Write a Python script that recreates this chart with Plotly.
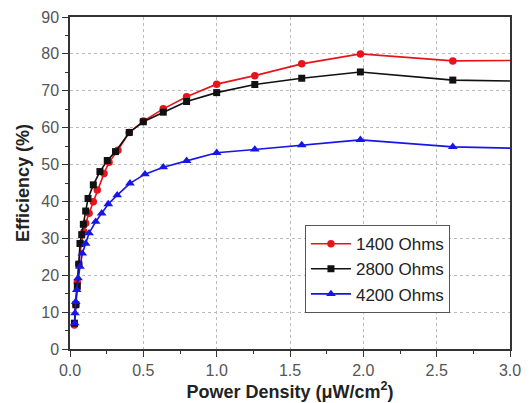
import plotly.graph_objects as go

# 1400 Ohms
x_1400 = [0.03, 0.04, 0.05, 0.06, 0.077, 0.095, 0.107, 0.13, 0.159, 0.186, 0.232,
          0.266, 0.327, 0.404, 0.5, 0.636, 0.795, 1.0, 1.26, 1.58, 1.98, 2.61, 3.4]
eff_1400 = [6.5, 12, 18, 23, 28.6, 31.8, 34.1, 36.8, 39.9, 43.1, 47.6,
            50.6, 53.9, 58.7, 61.8, 65.1, 68.4, 71.8, 74.1, 77.3, 80.0, 78.1, 78.3]

# 2800 Ohms
x_2800 = [0.03, 0.04, 0.05, 0.06, 0.068, 0.08, 0.091, 0.107, 0.123, 0.159, 0.204,
          0.254, 0.31, 0.404, 0.5, 0.636, 0.795, 1.0, 1.26, 1.58, 1.98, 2.61, 3.4]
eff_2800 = [7, 12, 17, 23, 28.6, 31, 33.8, 37.4, 40.8, 44.5, 48.1,
            51.1, 53.5, 58.7, 61.6, 64.2, 67.1, 69.5, 71.7, 73.4, 75.1, 72.9, 72.4]

# 4200 Ohms
x_4200 = [0.032, 0.034, 0.039, 0.046, 0.055, 0.068, 0.084, 0.107, 0.13, 0.175, 0.216,
          0.261, 0.322, 0.409, 0.511, 0.636, 0.795, 1.0, 1.26, 1.58, 1.98, 2.61, 3.4]
eff_4200 = [7.0, 9.7, 12.8, 16.0, 19.2, 22.3, 25.9, 28.6, 31.4, 34.5, 36.8,
            39.3, 41.7, 44.9, 47.4, 49.3, 51.0, 53.2, 54.1, 55.3, 56.7, 54.8, 54.1]

x_ticks = [0.0, 0.5, 1.0, 1.5, 2.0, 2.5, 3.0]
y_ticks = [0, 10, 20, 30, 40, 50, 60, 70, 80, 90]

series = [
    ("1400 Ohms", x_1400, eff_1400, "#e8141b", "circle", 7.5),
    ("2800 Ohms", x_2800, eff_2800, "#111111", "square", 7),
    ("4200 Ohms", x_4200, eff_4200, "#1616e8", "triangle-up", 8.5),
]

fig = go.Figure()
for name, xs, ys, color, symbol, size in series:
    fig.add_scatter(
        x=xs, y=ys, name=name, mode="lines+markers",
        line={"color": color, "width": 1.6},
        marker={"color": color, "symbol": symbol, "size": size},
    )

axis_common = dict(
    showline=True, linecolor="#333333", linewidth=1.5, mirror=True,
    ticks="outside", ticklen=6, tickcolor="#333333", tickwidth=1.2,
    showgrid=True, gridcolor="#bbbbbb", griddash="dot", gridwidth=1,
    zeroline=False, automargin=False,
    tickfont={"size": 16, "color": "#555555", "family": "Liberation Sans, Arial"},
)

fig.update_xaxes(
    range=[0, 3.0], tickvals=x_ticks, ticktext=[f"{v:.1f}" for v in x_ticks],
    minor={"dtick": 0.25, "ticks": "outside", "ticklen": 3, "tickcolor": "#333333", "showgrid": False},
    title={"text": "<b>Power Density (μW/cm<sup>2</sup>)</b>", "standoff": 6,
           "font": {"size": 18, "color": "#222222", "family": "Liberation Sans, Arial"}},
    **axis_common,
)
fig.update_yaxes(
    range=[0, 90], tickvals=y_ticks,
    minor={"dtick": 5, "ticks": "outside", "ticklen": 3, "tickcolor": "#333333", "showgrid": False},
    title={"text": "<b>Efficiency (%)</b>", "standoff": 7,
           "font": {"size": 18, "color": "#222222", "family": "Liberation Sans, Arial"}},
    **axis_common,
)

# the page body adds an 8px offset, so the figure is sized to fit inside the window
fig.update_layout(
    width=522, height=395,
    margin={"l": 62, "r": 20, "t": 9, "b": 54},
    plot_bgcolor="white", paper_bgcolor="white",
    font={"family": "Liberation Sans, Arial", "color": "#222222"},
    legend={
        "x": 0.534, "y": 0.373, "xanchor": "left", "yanchor": "top",
        "bgcolor": "white", "bordercolor": "#555555", "borderwidth": 1,
        "font": {"size": 17, "color": "#222222"},
        "tracegroupgap": 0, "itemwidth": 40,
    },
)

fig.write_html("out.html")
